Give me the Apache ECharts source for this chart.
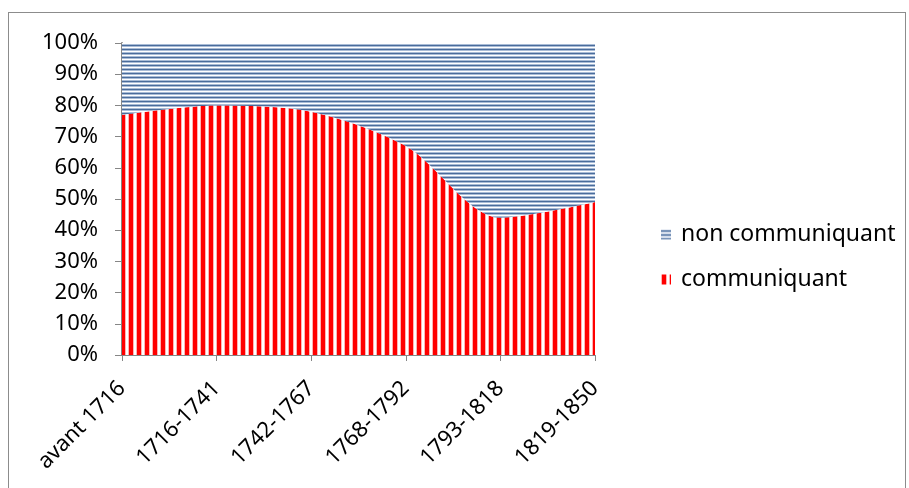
<!DOCTYPE html>
<html>
<head>
<meta charset="utf-8">
<script src="https://cdn.jsdelivr.net/npm/echarts@6/dist/echarts.min.js"></script>
<style>
  body { margin: 0; background: #fff; }
  #frame { position: absolute; left: 8px; top: 12px; width: 898px; height: 480px; border: 1px solid #8c8c8c; box-sizing: border-box; }
  #chart { position: absolute; left: 0; top: 0; width: 909px; height: 488px; }
</style>
</head>
<body>
<div id="frame"></div>
<div id="chart"></div>
<script>
// periods on the x axis
const periods = ['avant 1716', '1716-1741', '1742-1767', '1768-1792', '1793-1818', '1819-1850']
// share of letters, in percent
const communiquant = [77, 80, 78, 67, 44, 49]
const nonCommuniquant = [23, 20, 22, 33, 56, 51]

// red vertical stripes
function redStripes () {
  let c = document.createElement('canvas')
  c.width = 8
  c.height = 8
  let g = c.getContext('2d')
  g.fillStyle = '#ffffff'
  g.fillRect(0, 0, 8, 8)
  g.fillStyle = '#ffb3b3'
  g.fillRect(0, 0, 1, 8)
  g.fillRect(5, 0, 1, 8)
  g.fillStyle = '#ff0000'
  g.fillRect(1, 0, 4, 8)
  return c
}

// blue horizontal stripes
function blueStripes () {
  let c = document.createElement('canvas')
  c.width = 4
  c.height = 4
  let g = c.getContext('2d')
  g.fillStyle = '#ffffff'
  g.fillRect(0, 0, 4, 4)
  g.fillStyle = '#a9bcd7'
  g.fillRect(0, 0, 4, 1)
  g.fillRect(0, 2, 4, 1)
  g.fillStyle = '#4a6c9b'
  g.fillRect(0, 1, 4, 1)
  return c
}

let red = { image: redStripes(), repeat: 'repeat' }
let blue = { image: blueStripes(), repeat: 'repeat' }

let myChart = echarts.init(document.getElementById('chart'))
let font = 'Noto Sans'
let option = {
  animation: false,
  grid: { left: 122, right: 314, top: 43, bottom: 133 },
  legend: {
    orient: 'vertical',
    left: 656,
    top: 218,
    itemGap: 22,
    itemWidth: 10,
    itemHeight: 10,
    icon: 'rect',
    data: ['non communiquant', 'communiquant'],
    textStyle: { fontFamily: font, fontSize: 23, color: '#000', padding: [0, 0, 0, 5] }
  },
  xAxis: {
    type: 'category',
    boundaryGap: false,
    data: periods,
    axisLine: { lineStyle: { color: '#868686', width: 1 } },
    axisTick: { show: true, length: 6, alignWithLabel: true, lineStyle: { color: '#868686' } },
    axisLabel: { rotate: 45, margin: 30, color: '#000', fontFamily: font, fontSize: 22, interval: 0 }
  },
  yAxis: {
    type: 'value',
    min: 0,
    max: 100,
    interval: 10,
    axisLine: { show: true, lineStyle: { color: '#868686', width: 2 } },
    axisTick: { show: true, length: 7, lineStyle: { color: '#868686' } },
    splitLine: { show: false },
    axisLabel: { formatter: '{value}%', margin: 24, color: '#000', fontFamily: font, fontSize: 22 }
  },
  series: [
    {
      name: 'communiquant',
      type: 'line',
      stack: 'total',
      smooth: 0.3,
      showSymbol: false,
      lineStyle: { width: 0 },
      itemStyle: { color: red },
      areaStyle: { color: red, opacity: 1 },
      data: communiquant
    },
    {
      name: 'non communiquant',
      type: 'line',
      stack: 'total',
      smooth: 0.3,
      showSymbol: false,
      lineStyle: { width: 0 },
      itemStyle: { color: blue },
      areaStyle: { color: blue, opacity: 1 },
      data: nonCommuniquant
    }
  ]
}
myChart.setOption(option)
</script>
</body>
</html>
